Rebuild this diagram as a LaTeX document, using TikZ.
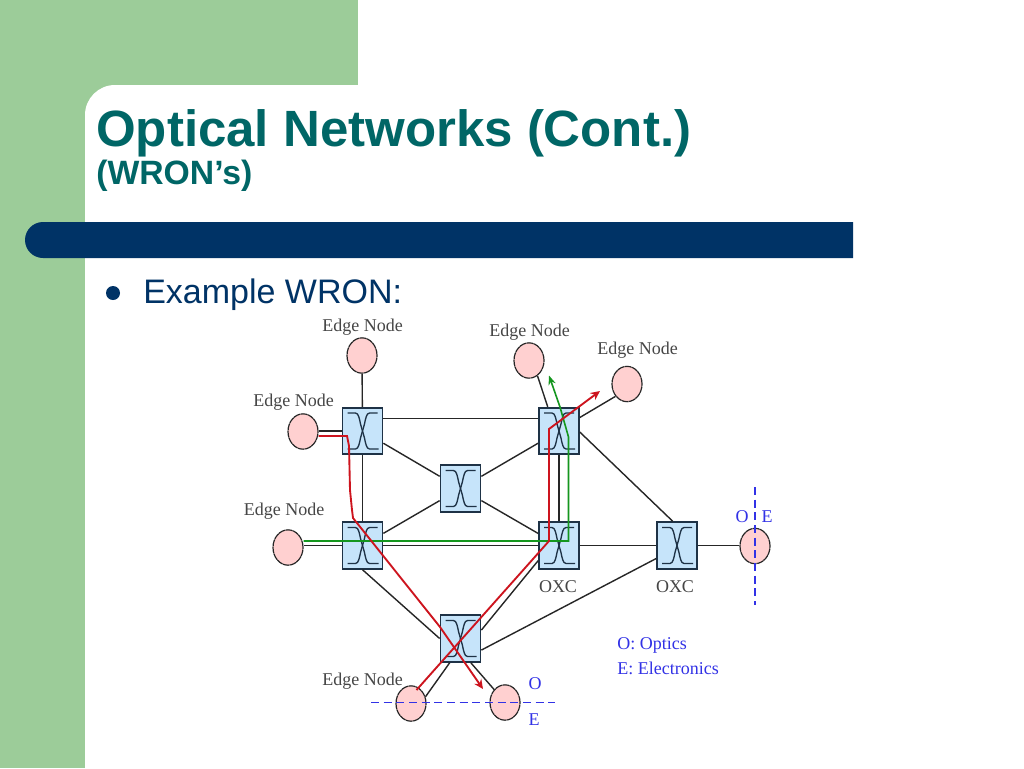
\documentclass[tikz,border=0pt]{standalone}
\usepackage{fontspec}
\setmainfont{Liberation Sans}
\newfontfamily\figfont{Liberation Serif}
\usetikzlibrary{arrows.meta,shapes.geometric}
\definecolor{bggreen}{RGB}{156,204,153}
\definecolor{barblue}{RGB}{0,51,102}
\definecolor{titleteal}{RGB}{0,102,102}
\definecolor{swblue}{RGB}{198,228,250}
\definecolor{swline}{RGB}{30,50,70}
\definecolor{edgepink}{RGB}{255,208,208}
\definecolor{labelgray}{RGB}{70,70,70}
\definecolor{oeblue}{RGB}{50,50,230}
\definecolor{pathred}{RGB}{205,20,30}
\definecolor{pathgreen}{RGB}{20,150,30}
\tikzset{
  swbox/.style={draw=swline,line width=1.3pt,fill=swblue,minimum width=30pt,minimum height=35pt,inner sep=0pt},
  edgenode/.style={ellipse,draw=black!85,dash pattern=on 5pt off 0.4pt,line width=0.9pt,fill=edgepink,minimum width=22.5pt,minimum height=26.5pt,inner sep=0pt},
  edgelabel/.style={font=\figfont\fontsize{13.5}{15}\selectfont,text=labelgray,inner sep=0pt},
  oelabel/.style={font=\figfont\fontsize{13.5}{15}\selectfont,text=oeblue,inner sep=0pt},
  link/.style={draw=black!85,line width=1.05pt},
  oeline/.style={draw=oeblue,line width=1.1pt,dash pattern=on 6pt off 3.5pt},
  redpath/.style={draw=pathred,line width=1.4pt},
  greenpath/.style={draw=pathgreen,line width=1.2pt},
}
\begin{document}
\begin{tikzpicture}[x=0.75pt,y=-0.75pt]
\useasboundingbox (0,0) rectangle (1024,768);

% slide background
\fill[bggreen] (0,0) rectangle (358,115);
\fill[bggreen] (0,0) rectangle (85,768);
\fill[white] (85,768) -- (85,115) arc (180:270:30) -- (358,85) -- (358,0) -- (1024,0) -- (1024,768) -- cycle;
\fill[barblue] (853,222) -- (43,222) arc (270:90:18) -- (853,258) -- cycle;

\node[anchor=base west,inner sep=0pt,font=\bfseries\fontsize{38.25}{40}\selectfont,text=titleteal] (title) at (96,146) {Optical Networks (Cont.)};
\node[anchor=base west,inner sep=0pt,font=\bfseries\fontsize{25.3}{27}\selectfont,text=titleteal] (subtitle) at (96,184) {(WRON’s)};
\fill[barblue] (113,293) circle (7);
\node[anchor=base west,inner sep=0pt,font=\fontsize{25.5}{27}\selectfont,text=barblue] (example) at (143,303) {Example WRON:};

% switches
\node[swbox] (swTL) at (362.5,431) {};
\node[swbox] (swC) at (460.5,488.5) {};
\node[swbox] (swTR) at (559,431) {};
\node[swbox] (swML) at (362.5,545.5) {};
\node[swbox] (swMR) at (559,545.5) {};
\node[swbox] (swFR) at (677,545.5) {};
\node[swbox] (swB) at (460.5,638.5) {};
\foreach \s in {swTL,swC,swTR,swML,swMR,swFR,swB}
{\begin{scope}[shift={(\s)}]
\draw[line width=1pt,swline] (-15,-18) -- (-7,-18) .. controls (-4,-18) and (-3,-12) .. (-2,-7) -- (2,7) .. controls (3,12) and (4,18) .. (7,18) -- (16,18);
\draw[line width=1pt,swline] (15,-18) -- (7,-18) .. controls (4,-18) and (3,-12) .. (2,-7) -- (-2,7) .. controls (-3,12) and (-4,18) .. (-7,18) -- (-15,18);
\end{scope}
}

% edge nodes
\node[edgenode] (enTop) at (362,355.5) {};
\node[edgenode] (enLeft) at (303,431.5) {};
\node[edgenode] (enMid) at (288,547.5) {};
\node[edgenode] (enUp) at (529,360.5) {};
\node[edgenode] (enUpR) at (627,384) {};
\node[edgenode] (enRight) at (755,546) {};
\node[edgenode] (enBotL) at (411,703.5) {};
\node[edgenode] (enBotR) at (505,702.5) {};

% fibre links
\draw[link] (enTop) -- (swTL);
\draw[link] (enLeft.east |- swTL.west) -- (swTL.west);
\draw[link] (swTL) -- (swML);
\draw[link] (swTL.31) -- (swTR.149);
\draw[link] (swTL) -- (swC);
\draw[link] (swC) -- (swTR);
\draw[link] (swC) -- (swML);
\draw[link] (swC) -- (swMR);
\draw[link] (swTR) -- (swMR);
\draw[link] (enMid.east |- swML.west) -- (swML.west);
\draw[link] (swML) -- (swMR);
\draw[link] (swMR) -- (swFR);
\draw[link] (swFR.east) -- (enRight.west |- swFR.east);
\draw[link] (swTR.115) -- (enUp.-61);
\draw[link] (swTR.33) -- (enUpR.227);
\draw[link] (swTR.-3) -- (swFR.100);
\draw[link] (swML.south) -- (swB.west);
\draw[link] (swMR.216) -- (swB.22);
\draw[link] (swFR.212) -- (swB.-29);
\draw[link] (swB.246) -- (enBotL.25);
\draw[link] (swB.293) -- (enBotR.130);

% lightpaths
\coordinate (greenA) at (568.5,541);
\coordinate (greenB) at (568.5,437);
\coordinate (greenC) at (560,407);
\coordinate (greenEnd) at (549,375.5);
\draw[greenpath,-{Stealth[length=7pt,width=5.5pt]}] (enMid.east |- greenA) -- (greenA) -- (greenB) -- (greenC) -- (greenEnd);
\coordinate (redA) at (347,436);
\coordinate (redB) at (350,490);
\coordinate (redC) at (353,518);
\coordinate (redEnd) at (483,689);
\draw[redpath,-{Stealth[length=7pt,width=6.5pt]}] (enLeft.east |- redA) -- (redA) -- (349,446) -- (redB) -- (352,510) -- (redC) -- (440,627) -- (redEnd);
\coordinate (redD) at (416.5,690);
\coordinate (redE) at (549,541);
\coordinate (redF) at (549,429);
\coordinate (redEnd2) at (600,391);
\draw[redpath,-{Stealth[length=7pt,width=6.5pt]}] (redD) -- (redE) -- (redF) -- (redEnd2);

% O/E boundaries
\coordinate (oeA) at (371,702.5);
\coordinate (oeB) at (555,702.5);
\coordinate (oeC) at (755,487);
\coordinate (oeD) at (755,605);
\draw[oeline] (oeA) -- (oeB);
\draw[oeline] (oeC) -- (oeD);

% labels
\node[edgelabel] (lbTop) at (362.5,327.5) {Edge Node};
\node[edgelabel] (lbLeft) at (293.5,402.5) {Edge Node};
\node[edgelabel] (lbMid) at (284,511.5) {Edge Node};
\node[edgelabel] (lbUp) at (529.5,332.5) {Edge Node};
\node[edgelabel] (lbUpR) at (637.5,350.5) {Edge Node};
\node[edgelabel] (lbBot) at (362.5,681.5) {Edge Node};
\node[edgelabel] (lbOxcA) at (558,587) {OXC};
\node[edgelabel] (lbOxcB) at (675,587) {OXC};
\node[oelabel] (lbO1) at (742,517) {O};
\node[oelabel] (lbE1) at (767,517) {E};
\node[oelabel] (lbO2) at (535,684) {O};
\node[oelabel] (lbE2) at (534,720) {E};
\node[oelabel,anchor=west] (lbOptics) at (617,645.5) {O: Optics};
\node[oelabel,anchor=west] (lbElec) at (617,668) {E: Electronics};
\end{tikzpicture}
\end{document}
